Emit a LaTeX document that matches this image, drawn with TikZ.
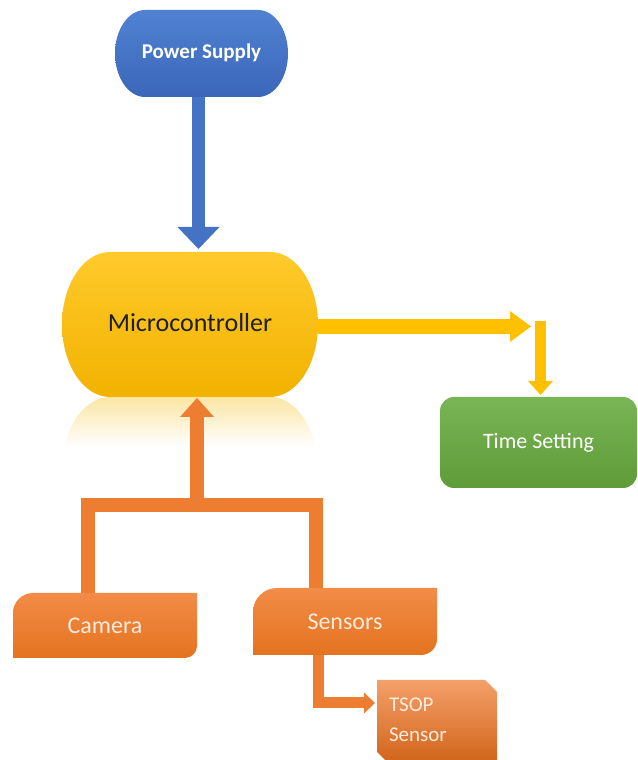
\documentclass[tikz,border=0pt]{standalone}
\usepackage{fontspec}
\setmainfont{Carlito}
\usetikzlibrary{arrows.meta,backgrounds,calc}
\definecolor{bluetop}{HTML}{5182D2}
\definecolor{bluebot}{HTML}{3B66B9}
\definecolor{bluearr}{HTML}{4472C4}
\definecolor{yeltop}{HTML}{FFCA2C}
\definecolor{yelbot}{HTML}{F2B200}
\definecolor{yelarr}{HTML}{FFC000}
\definecolor{yelrefl}{HTML}{FBE6A4}
\definecolor{grntop}{HTML}{79B554}
\definecolor{grnbot}{HTML}{5F9B39}
\definecolor{ortop}{HTML}{F28C48}
\definecolor{orbot}{HTML}{E4731F}
\definecolor{orarr}{HTML}{ED7D31}
\definecolor{tstop}{HTML}{F4A06A}
\definecolor{tsbot}{HTML}{D2661C}
\definecolor{cream}{HTML}{FDEBDD}
\begin{document}
\begin{tikzpicture}[x=1pt,y=1pt,
  box/.style={inner sep=0pt, outer sep=0pt, align=center},
  bigarrow/.style={line cap=butt, line join=miter},
]
\useasboundingbox (0,0) rectangle (637,760);

% ---------- nodes ----------
\node[box, minimum width=173pt, minimum height=87pt, text=white,
  font=\bfseries\fontsize{21}{24}\selectfont] (ps) at (201.5,706.5) {\raisebox{4pt}{Power Supply}};
\node[box, minimum width=256pt, minimum height=145pt, text=black!88,
  font=\fontsize{26}{30}\selectfont] (mc) at (190,435.5) {\raisebox{5pt}{Microcontroller}};
\node[box, minimum width=197pt, minimum height=91pt, text=white,
  font=\fontsize{22}{26}\selectfont] (ts) at (538.5,317.5) {\raisebox{3pt}{Time Setting}};
\node[box, minimum width=184pt, minimum height=65pt, text=cream,
  font=\fontsize{24}{28}\selectfont] (cam) at (105,134.5) {Camera};
\node[box, minimum width=184pt, minimum height=67pt, text=cream,
  font=\fontsize{24}{28}\selectfont] (sens) at (345,138.5) {Sensors};
\node[box, minimum width=120pt, minimum height=80pt, text=cream,
  font=\fontsize{21}{30}\selectfont, align=left, text width=96pt] (tsop) at (437,40) {\raisebox{6pt}{\parbox{96pt}{TSOP\\Sensor}}};

% ---------- shapes (background) ----------
\begin{pgfonlayer}{background}
  % power supply
  \shade[top color=bluetop, bottom color=bluebot]
    ([xshift=30pt]ps.north west) -- ([xshift=-30pt]ps.north east)
    arc[start angle=90, end angle=-90, x radius=30pt, y radius=43.5pt]
    -- ([xshift=30pt]ps.south west)
    arc[start angle=270, end angle=90, x radius=30pt, y radius=43.5pt] -- cycle;
  % reflection of the microcontroller
  \begin{scope}
    \clip ([xshift=48pt,yshift=-145pt]mc.north west) -- ([xshift=-48pt,yshift=-145pt]mc.north east)
      arc[start angle=90, end angle=-90, x radius=48pt, y radius=72.5pt]
      -- ([xshift=48pt,yshift=-145pt]mc.south west)
      arc[start angle=270, end angle=90, x radius=48pt, y radius=72.5pt] -- cycle;
    \shade[top color=yelrefl, bottom color=white] (60,313) rectangle (320,363);
  \end{scope}
  % microcontroller
  \shade[top color=yeltop, bottom color=yelbot]
    ([xshift=48pt]mc.north west) -- ([xshift=-48pt]mc.north east)
    arc[start angle=90, end angle=-90, x radius=48pt, y radius=72.5pt]
    -- ([xshift=48pt]mc.south west)
    arc[start angle=270, end angle=90, x radius=48pt, y radius=72.5pt] -- cycle;
  % time setting
  \shade[top color=grntop, bottom color=grnbot, rounded corners=14pt]
    (ts.south west) rectangle (ts.north east);
  % camera
  \shade[top color=ortop, bottom color=orbot]
    (cam.south west) -- ([yshift=-20pt]cam.north west)
    arc[start angle=180, end angle=90, radius=20pt]
    -- (cam.north east) -- ([yshift=12pt]cam.south east)
    arc[start angle=0, end angle=-90, radius=12pt] -- cycle;
  % sensors
  \shade[top color=ortop, bottom color=orbot]
    (sens.south west) -- ([yshift=-24pt]sens.north west)
    arc[start angle=180, end angle=90, radius=24pt]
    -- (sens.north east) -- ([yshift=16pt]sens.south east)
    arc[start angle=0, end angle=-90, radius=16pt] -- cycle;
  % TSOP sensor
  \shade[top color=tstop, bottom color=tsbot]
    ([yshift=8pt]tsop.south west) -- (tsop.north west)
    -- ([xshift=-12pt]tsop.north east) -- ([yshift=-12pt]tsop.north east)
    -- (tsop.south east) -- ([xshift=8pt]tsop.south west) -- cycle;
\end{pgfonlayer}

% ---------- connectors ----------
% power supply -> microcontroller
\draw[bigarrow, bluearr, line width=13pt,
  -{Triangle[width=42pt, length=22pt, line width=0pt]}, shorten >=3pt]
  ([xshift=-3pt]ps.south) -- ([xshift=-3pt]ps.south |- mc.north);

% microcontroller -> time setting
\coordinate (yturn) at ($(mc.east)+(213pt,-2pt)$);
\draw[bigarrow, yelarr, line width=15pt,
  -{Triangle[width=31pt, length=21pt, line width=0pt]}]
  ([yshift=-2pt]mc.east) -- (yturn);
\coordinate (ydrop) at ($(ts.north |- yturn)+(2pt,5pt)$);
\draw[bigarrow, yelarr, line width=11pt,
  -{Triangle[width=25pt, length=14pt, line width=0pt]}, shorten >=2pt]
  (ydrop) -- (ydrop |- ts.north);

% camera / sensors -> microcontroller
\coordinate (junc) at (197,255);
\draw[bigarrow, orarr, line width=14pt]
  ([xshift=-17.5pt]cam.north) -- ([xshift=-17.5pt]cam.north |- junc)
  -- ([xshift=-29pt]sens.north |- junc) -- ([xshift=-29pt]sens.north);
\draw[bigarrow, orarr, line width=14pt,
  -{Triangle[width=34pt, length=19pt, line width=0pt]}, shorten >=1pt]
  (junc) -- (junc |- mc.south);

% sensors -> TSOP sensor
\coordinate (sturn) at ($([xshift=-27pt]sens.south)+(0,-48pt)$);
\draw[bigarrow, orarr, line width=11pt,
  -{Triangle[width=21pt, length=11pt, line width=0pt]}, shorten >=2pt]
  ([xshift=-27pt]sens.south) -- (sturn) -- (sturn -| tsop.west);
\end{tikzpicture}
\end{document}
